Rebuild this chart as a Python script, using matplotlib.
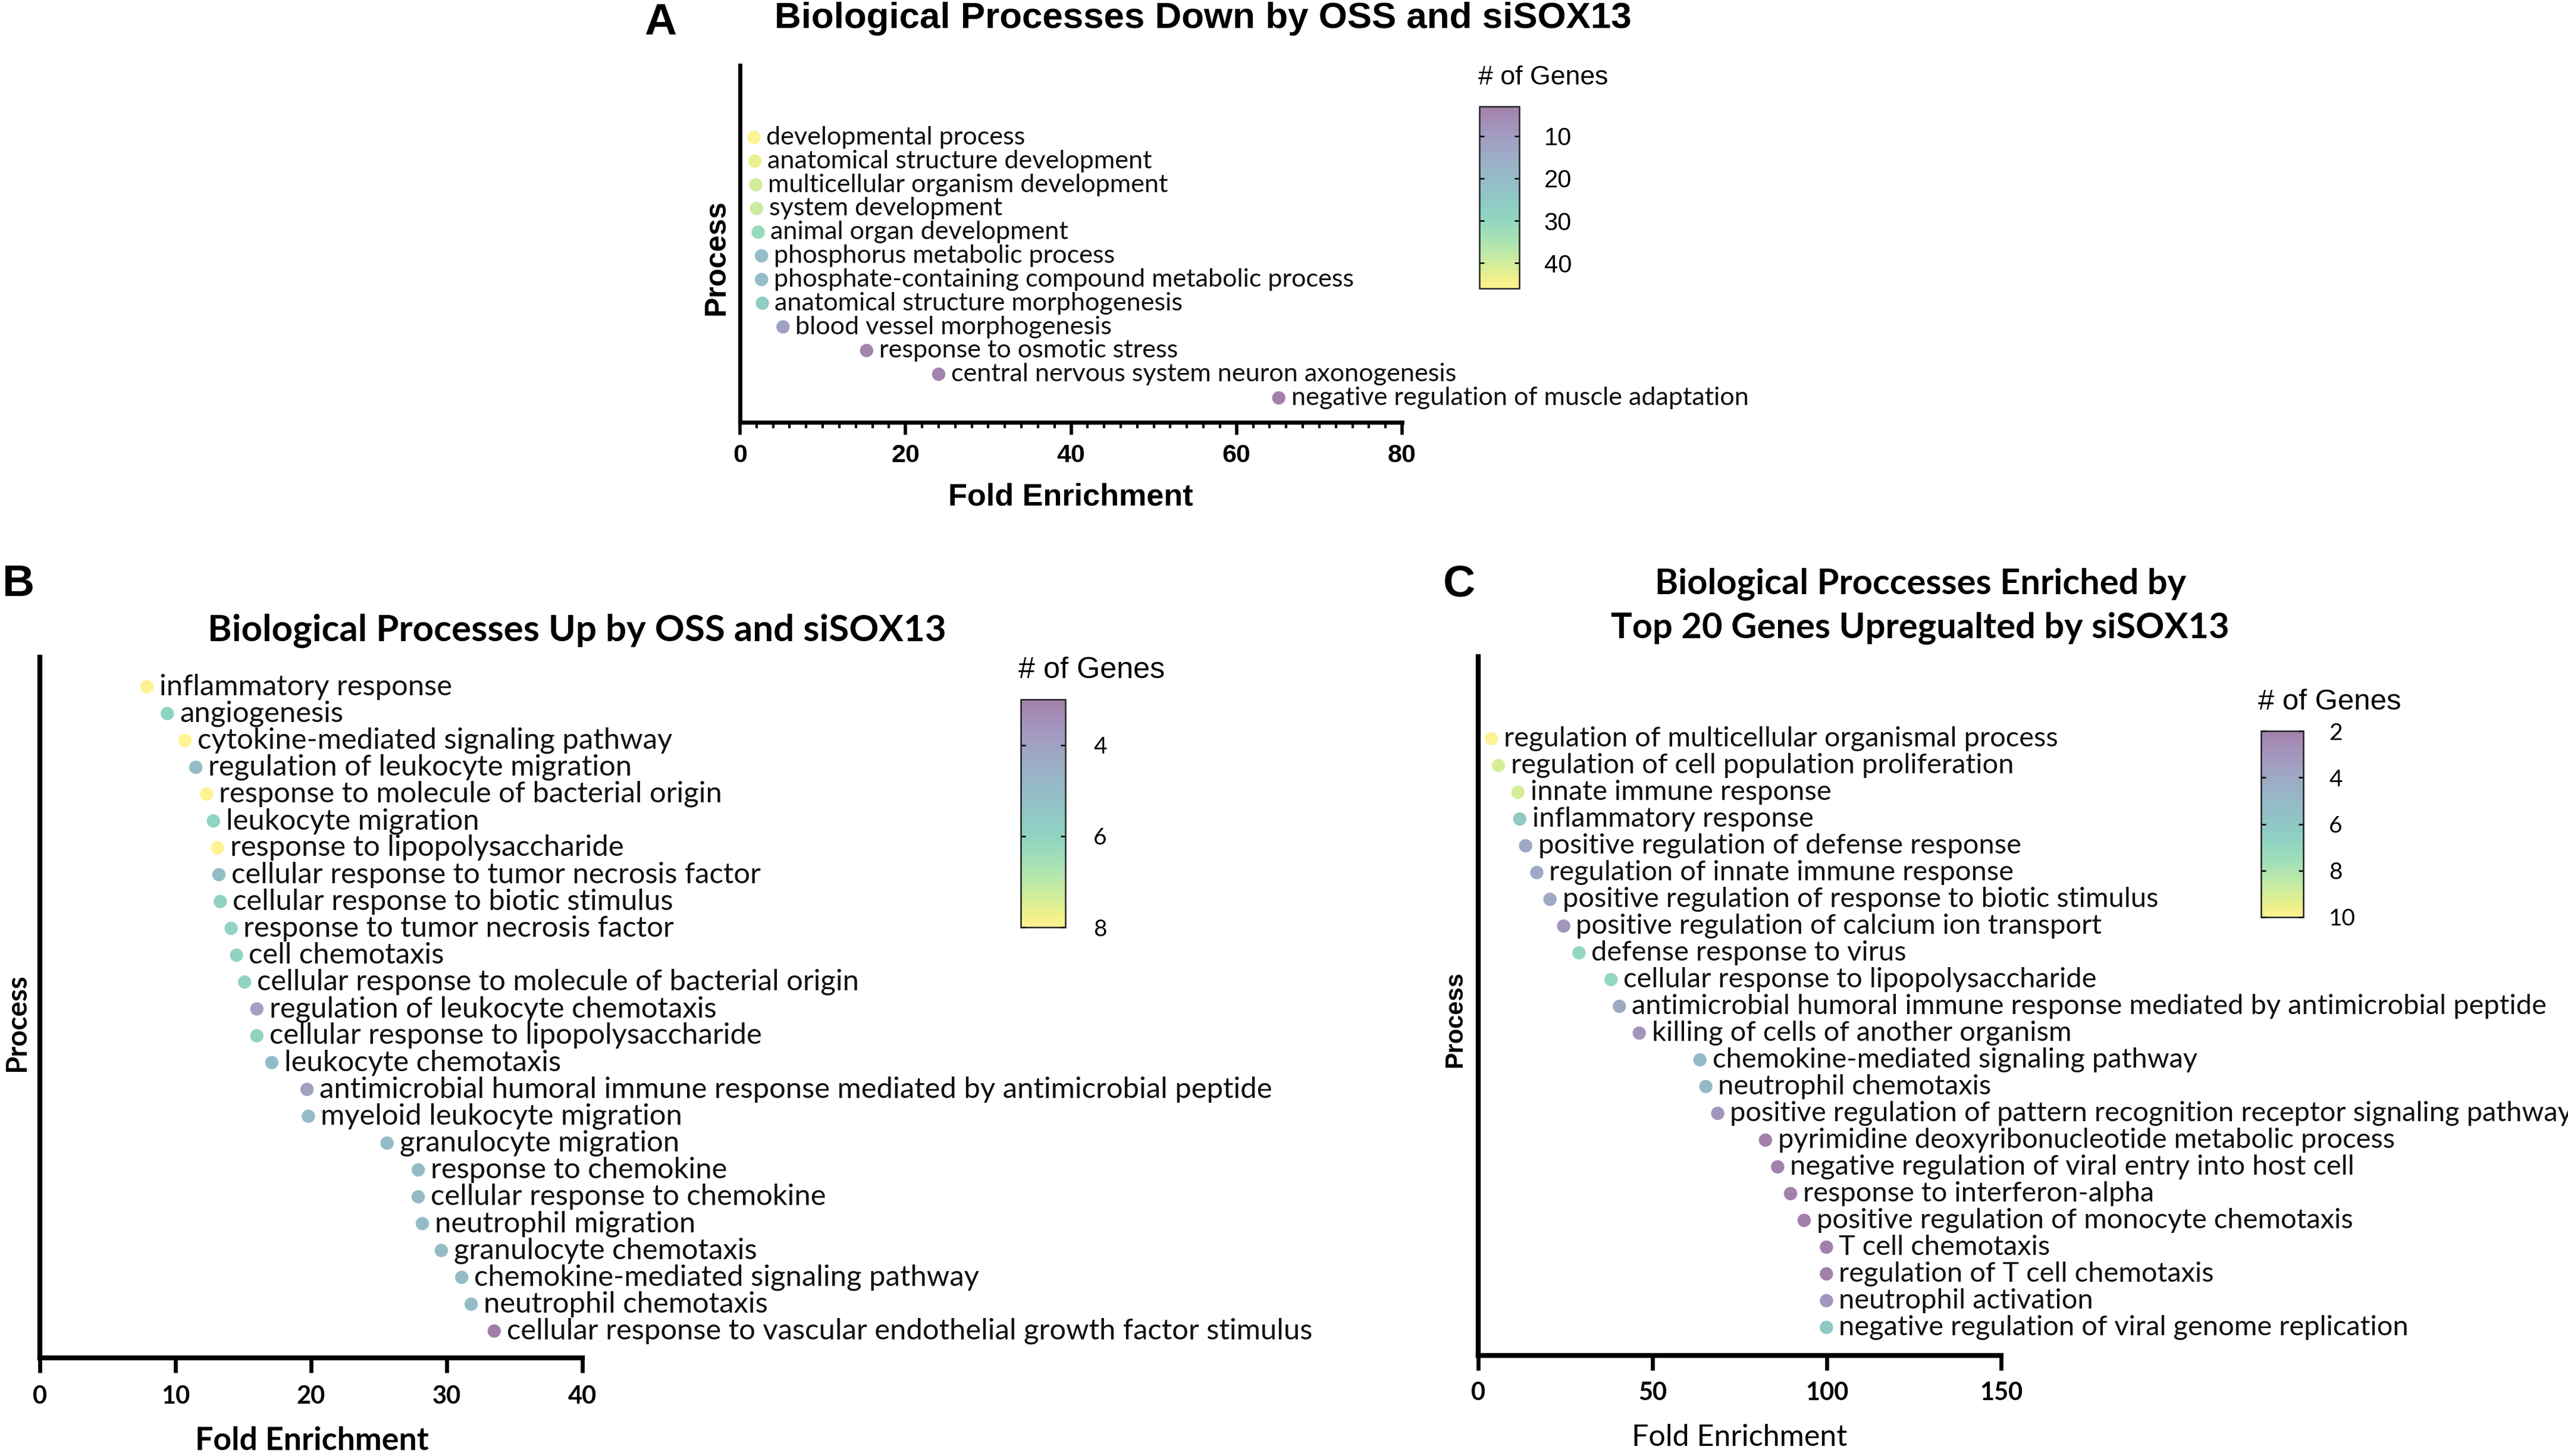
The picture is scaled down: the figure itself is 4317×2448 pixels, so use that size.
import numpy as np
import matplotlib
matplotlib.use("Agg")
import matplotlib.pyplot as plt
from matplotlib.colors import ListedColormap, Normalize
from matplotlib.cm import ScalarMappable

# ---------------- data ----------------
a_terms = ["developmental process", "anatomical structure development",
           "multicellular organism development", "system development",
           "animal organ development", "phosphorus metabolic process",
           "phosphate-containing compound metabolic process",
           "anatomical structure morphogenesis", "blood vessel morphogenesis",
           "response to osmotic stress", "central nervous system neuron axonogenesis",
           "negative regulation of muscle adaptation"]
a_fold = [1.7, 1.8, 1.9, 2.0, 2.2, 2.6, 2.6, 2.7, 5.2, 15.3, 24.0, 65.1]
a_genes = [46, 43, 40, 39, 31, 21, 21, 27, 12, 4, 4, 3]
a_xticks = [0, 20, 40, 60, 80]
a_cticks = [10, 20, 30, 40]

b_terms = ["inflammatory response", "angiogenesis", "cytokine-mediated signaling pathway",
           "regulation of leukocyte migration", "response to molecule of bacterial origin",
           "leukocyte migration", "response to lipopolysaccharide",
           "cellular response to tumor necrosis factor", "cellular response to biotic stimulus",
           "response to tumor necrosis factor", "cell chemotaxis",
           "cellular response to molecule of bacterial origin",
           "regulation of leukocyte chemotaxis", "cellular response to lipopolysaccharide",
           "leukocyte chemotaxis",
           "antimicrobial humoral immune response mediated by antimicrobial peptide",
           "myeloid leukocyte migration", "granulocyte migration", "response to chemokine",
           "cellular response to chemokine", "neutrophil migration", "granulocyte chemotaxis",
           "chemokine-mediated signaling pathway", "neutrophil chemotaxis",
           "cellular response to vascular endothelial growth factor stimulus"]
b_fold = [7.9, 9.4, 10.7, 11.5, 12.3, 12.8, 13.1, 13.2, 13.3, 14.1, 14.5, 15.1, 16.0,
          16.0, 17.1, 19.7, 19.8, 25.6, 27.9, 27.9, 28.2, 29.6, 31.1, 31.8, 33.5]
b_genes = [8, 6, 8, 5, 8, 6, 8, 5, 6, 6, 6, 6, 4, 6, 5, 4, 5, 5, 5, 5, 5, 5, 5, 5, 3]
b_xticks = [0, 10, 20, 30, 40]
b_cticks = [4, 6, 8]

c_terms = ["regulation of multicellular organismal process",
           "regulation of cell population proliferation", "innate immune response",
           "inflammatory response", "positive regulation of defense response",
           "regulation of innate immune response",
           "positive regulation of response to biotic stimulus",
           "positive regulation of calcium ion transport", "defense response to virus",
           "cellular response to lipopolysaccharide",
           "antimicrobial humoral immune response mediated by antimicrobial peptide",
           "killing of cells of another organism", "chemokine-mediated signaling pathway",
           "neutrophil chemotaxis",
           "positive regulation of pattern recognition receptor signaling pathway",
           "pyrimidine deoxyribonucleotide metabolic process",
           "negative regulation of viral entry into host cell", "response to interferon-alpha",
           "positive regulation of monocyte chemotaxis", "T cell chemotaxis",
           "regulation of T cell chemotaxis", "neutrophil activation",
           "negative regulation of viral genome replication"]
c_fold = [3.8, 5.8, 11.4, 11.9, 13.6, 16.8, 20.6, 24.5, 28.9, 38.1, 40.5, 46.2, 63.6,
          65.3, 68.7, 82.4, 85.9, 89.6, 93.5, 99.9, 99.9, 99.9, 99.9]
c_genes = [10, 9, 9, 6, 4, 4, 4, 3, 7, 7, 4, 3, 5, 5, 3, 2, 2, 2, 2, 2, 2, 3, 6]
c_xticks = [0, 50, 100, 150]
c_cticks = [2, 4, 6, 8, 10]

# ---------------- style ----------------
W, H, DPI = 4317, 2448, 100
ARIAL = ['Liberation Sans', 'DejaVu Sans']
CALI = ['Lato', 'DejaVu Sans']

base = plt.get_cmap('viridis')(np.linspace(0, 1, 256))
soft = base.copy()
soft[:, :3] = base[:, :3] * 0.5 + 0.5
cmap = ListedColormap(soft)

fig = plt.figure(figsize=(W / DPI, H / DPI), dpi=DPI, facecolor='white')


def box(l, t, r, b):
    return [l / W, 1 - b / H, (r - l) / W, (b - t) / H]


def ftext(x, y, s, **kw):
    kw.setdefault('ha', 'center')
    kw.setdefault('va', 'center')
    return fig.text(x / W, 1 - y / H, s, **kw)


fits = []


def panel(rect, terms, fold, genes, vlim, xticks, pads, minor, spine_lw, ticklen,
          tickfont, ticksize, tickpad, label_ref, label_target):
    ax = fig.add_axes(box(*rect))
    n = len(terms)
    ys = np.arange(n)
    ax.scatter(fold, ys, c=genes, cmap=cmap, vmin=vlim[0], vmax=vlim[1], s=260,
               linewidths=0, zorder=3, clip_on=False)
    ax.set_xlim(xticks[0], xticks[-1])
    ax.set_ylim(n - 1 + pads[1], -pads[0])
    texts = []
    for t, xv, yv in zip(terms, fold, ys):
        texts.append(ax.annotate(t, (xv, yv), xytext=(15, 0), textcoords='offset points',
                                 ha='left', va='center', fontsize=28, family=CALI,
                                 color='#111111', annotation_clip=False))
    fits.append((texts, texts[label_ref], label_target, 'w'))
    for s in ['top', 'right']:
        ax.spines[s].set_visible(False)
    for s in ['left', 'bottom']:
        ax.spines[s].set_linewidth(spine_lw)
        ax.spines[s].set_capstyle('projecting')
    ax.set_yticks([])
    ax.set_xticks(xticks, labels=[str(v) for v in xticks], fontfamily=tickfont,
                  fontweight='bold', fontsize=ticksize)
    if minor:
        ax.set_xticks(np.arange(xticks[0], xticks[-1] + 0.01, minor), minor=True)
        ax.tick_params(axis='x', which='minor', length=ticklen * 0.5, width=spine_lw * 0.6)
    ax.tick_params(axis='x', which='major', length=ticklen, width=spine_lw * 0.8,
                   pad=tickpad)
    ax.set_facecolor('none')
    return ax


def cbar(rect, vlim, ticks, font, size, pad):
    cax = fig.add_axes(box(*rect))
    sm = ScalarMappable(norm=Normalize(vlim[0], vlim[1]), cmap=cmap)
    cb = fig.colorbar(sm, cax=cax, ticks=ticks)
    cax.invert_yaxis()
    cb.outline.set_linewidth(1.8)
    cb.outline.set_edgecolor('#222222')
    cax.tick_params(direction='in', left=True, right=True, length=6, width=1.8,
                    labelsize=size, pad=pad)
    cax.set_yticks(ticks, labels=[str(v) for v in ticks], fontfamily=font, fontsize=size)
    return cb


# ---------------- panel A ----------------
panel((1244, 110, 2357, 710), a_terms, a_fold, a_genes, (3, 46), a_xticks, (3.04, 1.03),
      2, 5, 15, ARIAL, 31, 11, 6, 977)
cbar((2487, 179, 2554, 485), (3, 46), a_cticks, ARIAL, 30, 30)
t = ftext(2594, 130, "# of Genes", family=ARIAL, fontsize=30)
fits.append(([t], t, 218, 'w'))
t = ftext(2022, 32, "Biological Processes Down by OSS and siSOX13", family=ARIAL,
          fontweight='bold', fontsize=40)
fits.append(([t], t, 1440, 'w'))
ftext(1110, 38, "A", family=ARIAL, fontweight='bold', fontsize=54)
t = ftext(1800, 836, "Fold Enrichment", family=ARIAL, fontweight='bold', fontsize=32)
fits.append(([t], t, 413, 'w'))
t = ftext(1205, 433, "Process", family=ARIAL, fontweight='bold', fontsize=32, rotation=90)
fits.append(([t], t, 195, 'h'))

# ---------------- panel B ----------------
panel((67, 1105, 979, 2283), b_terms, b_fold, b_genes, (3, 8), b_xticks, (1.1, 1.0),
      None, 6, 18, CALI, 30, 15, 15, 1603)
cbar((1716, 1176, 1791, 1559), (3, 8), b_cticks, CALI, 28, 34)
t = ftext(1835, 1127, "# of Genes", family=ARIAL, fontsize=30)
fits.append(([t], t, 246, 'w'))
t = ftext(970, 1060, "Biological Processes Up by OSS and siSOX13", family=CALI,
          fontweight='bold', fontsize=40)
fits.append(([t], t, 1241, 'w'))
ftext(31, 983, "B", family=ARIAL, fontweight='bold', fontsize=54)
t = ftext(524, 2423, "Fold Enrichment", family=CALI, fontweight='bold', fontsize=32)
fits.append(([t], t, 393, 'w'))
t = ftext(28, 1720, "Process", family=CALI, fontweight='bold', fontsize=32, rotation=90)
fits.append(([t], t, 165, 'h'))

# ---------------- panel C ----------------
panel((2485, 1104, 3364, 2279), c_terms, c_fold, c_genes, (2, 10), c_xticks, (3.07, 1.05),
      None, 6, 18, CALI, 30, 14, 10, 1537)
cbar((3801, 1229, 3872, 1542), (2, 10), c_cticks, CALI, 28, 31)
t = ftext(3916, 1180, "# of Genes", family=ARIAL, fontsize=30)
fits.append(([t], t, 240, 'w'))
t1 = ftext(3229, 983, "Biological Proccesses Enriched by", family=CALI,
           fontweight='bold', fontsize=40)
t2 = ftext(3228, 1057, "Top 20 Genes Upregualted by siSOX13", family=CALI,
           fontweight='bold', fontsize=40)
fits.append(([t1, t2], t2, 1038, 'w'))
ftext(2453, 983, "C", family=ARIAL, fontweight='bold', fontsize=54)
t = ftext(2924, 2417, "Fold Enrichment", family=CALI, fontsize=32)
fits.append(([t], t, 363, 'w'))
t = ftext(2446, 1714, "Process", family=ARIAL, fontweight='bold', fontsize=32, rotation=90)
fits.append(([t], t, 162, 'h'))

# ---------------- fit text sizes to reference extents ----------------
fig.canvas.draw()
rend = fig.canvas.get_renderer()
for texts, ref, target, dim in fits:
    bb = ref.get_window_extent(rend)
    cur = bb.width if dim == 'w' else bb.height
    k = target / cur
    for tt in texts:
        tt.set_fontsize(tt.get_fontsize() * k)

fig.savefig("out.png", dpi=DPI, facecolor='white')
